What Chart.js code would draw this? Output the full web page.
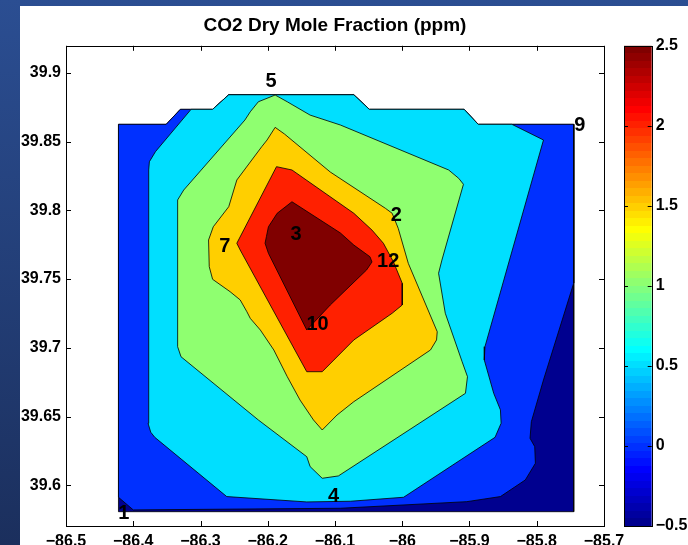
<!DOCTYPE html>
<html>
<head>
<meta charset="utf-8">
<script src="https://cdn.jsdelivr.net/npm/chart.js@4.4.1/dist/chart.umd.min.js"></script>
<style>
  html, body { margin: 0; padding: 0; width: 688px; height: 545px; overflow: hidden; }
  body { position: relative; background: linear-gradient(180deg, #2b4e92 0%, #1b2f5d 100%); }
  #panel { position: absolute; left: 20px; top: 6px; right: 0; bottom: 0; background: #fff; }
  #plot { position: absolute; left: 0; top: 0; }
  #cbar { position: absolute; left: 600px; top: 0; }
</style>
</head>
<body>
<div id="panel"></div>
<canvas id="plot" width="688" height="560"></canvas>
<canvas id="cbar" width="88" height="560"></canvas>
<script>
// axes
const xTicks = [-86.5, -86.4, -86.3, -86.2, -86.1, -86, -85.9, -85.8, -85.7];
const yTicks = [39.6, 39.65, 39.7, 39.75, 39.8, 39.85, 39.9];
const cbTicks = [-0.5, 0, 0.5, 1, 1.5, 2, 2.5];
const cbMin = -0.5, cbMax = 2.5;

// contour levels (ppm) and the region at or above each level, as [lon, lat]
const levels = [-0.5, 0, 0.5, 1, 1.5, 2, 2.5];

const shapeM05 = [
  [-86.422, 39.8625], [-86.351, 39.8625], [-86.330, 39.8734], [-86.282, 39.8734], [-86.258, 39.8840],
  [-86.072, 39.8840], [-86.049, 39.8734], [-85.908, 39.8734], [-85.887, 39.8625], [-85.745, 39.8625],
  [-85.745, 39.5808], [-86.422, 39.5808]
];
const shape00 = [
  [-86.422, 39.8625], [-86.351, 39.8625], [-86.330, 39.8734], [-86.282, 39.8734], [-86.258, 39.8840],
  [-86.072, 39.8840], [-86.049, 39.8734], [-85.908, 39.8734], [-85.887, 39.8625], [-85.745, 39.8625],
  [-85.745, 39.7471], [-85.790, 39.6766], [-85.808, 39.6463], [-85.810, 39.6342], [-85.803, 39.6281],
  [-85.802, 39.6160], [-85.817, 39.6039], [-85.854, 39.5918], [-85.904, 39.5881], [-86.092, 39.5833],
  [-86.400, 39.5821], [-86.422, 39.5913]
];
const shape05 = [
  [-86.314, 39.8734], [-86.282, 39.8734], [-86.258, 39.8840], [-86.072, 39.8840], [-86.049, 39.8734],
  [-85.908, 39.8734], [-85.887, 39.8625], [-85.837, 39.8625], [-85.790, 39.8511], [-85.877, 39.7008],
  [-85.878, 39.6911], [-85.864, 39.6669], [-85.854, 39.6548], [-85.853, 39.6451], [-85.862, 39.6349],
  [-85.998, 39.5913], [-86.077, 39.5884], [-86.142, 39.5879], [-86.261, 39.5918], [-86.368, 39.6349],
  [-86.374, 39.6386], [-86.378, 39.6451], [-86.377, 39.8293], [-86.376, 39.8353], [-86.367, 39.8426]
];
const shape10 = [
  [-86.189, 39.8838], [-86.171, 39.8789], [-86.137, 39.8692], [-86.092, 39.8620], [-85.931, 39.8293],
  [-85.916, 39.8232], [-85.909, 39.8189], [-85.941, 39.7638], [-85.946, 39.7542], [-85.936, 39.7251],
  [-85.911, 39.6899], [-85.903, 39.6790], [-85.906, 39.6669], [-86.095, 39.6068], [-86.119, 39.6051],
  [-86.137, 39.6136], [-86.142, 39.6208], [-86.214, 39.6475], [-86.329, 39.6935], [-86.334, 39.7008],
  [-86.334, 39.8075], [-86.325, 39.8147], [-86.234, 39.8656], [-86.226, 39.8716], [-86.214, 39.8789]
];
const shape15 = [
  [-86.189, 39.8603], [-86.175, 39.8554], [-86.107, 39.8278], [-86.025, 39.8014], [-86.015, 39.7978],
  [-86.006, 39.7869], [-85.991, 39.7614], [-85.948, 39.7117], [-85.949, 39.7057], [-85.958, 39.6984],
  [-86.072, 39.6608], [-86.097, 39.6511], [-86.119, 39.6402], [-86.132, 39.6475], [-86.152, 39.6620],
  [-86.171, 39.6790], [-86.191, 39.6984], [-86.211, 39.7129], [-86.226, 39.7214], [-86.231, 39.7262],
  [-86.241, 39.7348], [-86.256, 39.7408], [-86.282, 39.7498], [-86.287, 39.7590], [-86.288, 39.7784],
  [-86.281, 39.7880], [-86.258, 39.8026], [-86.246, 39.8220], [-86.209, 39.8462], [-86.201, 39.8511]
];
const shape20 = [
  [-86.187, 39.8317], [-86.164, 39.8293], [-86.072, 39.7978], [-86.045, 39.7856], [-86.028, 39.7760],
  [-86.013, 39.7624], [-86.000, 39.7469], [-86.000, 39.7311], [-86.015, 39.7251], [-86.072, 39.7057],
  [-86.119, 39.6826], [-86.142, 39.6826], [-86.241, 39.7711], [-86.246, 39.7760]
];
const shape25 = [
  [-86.164, 39.8062], [-86.092, 39.7835], [-86.072, 39.7747], [-86.048, 39.7662], [-86.045, 39.7624],
  [-86.053, 39.7566], [-86.107, 39.7311], [-86.142, 39.7129], [-86.199, 39.7687], [-86.204, 39.7760],
  [-86.202, 39.7808], [-86.199, 39.7880], [-86.186, 39.7978]
];
const shapes = [shapeM05, shape00, shape05, shape10, shape15, shape20, shape25];

// station numbers
const stationNames = ['5', '9', '2', '7', '3', '12', '10', '4', '1'];
const stationLon = [-86.195, -85.736, -86.009, -86.264, -86.158, -86.021, -86.126, -86.102, -86.414];
const stationLat = [39.8935, 39.8615, 39.7965, 39.7735, 39.7827, 39.7631, 39.7173, 39.5918, 39.5792];

const FONT = '"Liberation Sans", Arial, Helvetica, sans-serif';
const tickFont = { family: FONT, size: 16, weight: 'bold' };

// MATLAB jet(64), entry j = 1..64
function jet(j) {
    const u = k => (k < 1 || k > 47) ? 0 : k <= 16 ? k / 16 : k <= 31 ? 1 : (48 - k) / 16;
    const c = v => Math.round(v * 255);
    return `rgb(${c(u(j - 24))},${c(u(j - 8))},${c(u(j + 8))})`;
}
function levelColor(lv) {
    return jet(Math.min(64, Math.floor((lv - cbMin) / (cbMax - cbMin) * 64) + 1));
}
const fmt = v => String(+(+v).toFixed(2)).replace('-', '\u2212');

// frame with inward ticks, like MATLAB box on
const inwardTicks = {
    id: 'inwardTicks',
    afterDraw(chart, args, opts) {
        const { ctx, chartArea: a } = chart;
        const len = opts.length || 5;
        ctx.save();
        ctx.strokeStyle = '#000';
        ctx.lineWidth = 1;
        ctx.beginPath();
        const xs = chart.scales.x;
        if (xs && xs.options.display !== false) {
            xs.ticks.forEach(t => {
                const px = Math.round(xs.getPixelForValue(t.value)) + 0.5;
                ctx.moveTo(px, a.top); ctx.lineTo(px, a.top + len);
                ctx.moveTo(px, a.bottom); ctx.lineTo(px, a.bottom - len);
            });
        }
        const ys = chart.scales.y;
        ys.ticks.forEach(t => {
            const py = Math.round(ys.getPixelForValue(t.value)) + 0.5;
            ctx.moveTo(a.left, py); ctx.lineTo(a.left + len, py);
            ctx.moveTo(a.right, py); ctx.lineTo(a.right - len, py);
        });
        ctx.stroke();
        ctx.strokeRect(Math.round(a.left) + 0.5, Math.round(a.top) + 0.5,
            Math.round(a.right - a.left), Math.round(a.bottom - a.top));
        ctx.restore();
    }
};

const stationText = {
    id: 'stationText',
    afterDatasetsDraw(chart) {
        const { ctx, scales: { x, y } } = chart;
        ctx.save();
        ctx.font = 'bold 20px ' + FONT;
        ctx.fillStyle = '#000';
        ctx.textAlign = 'center';
        ctx.textBaseline = 'middle';
        stationNames.forEach((n, i) => {
            ctx.fillText(n, x.getPixelForValue(stationLon[i]), y.getPixelForValue(stationLat[i]));
        });
        ctx.restore();
    }
};

new Chart(document.getElementById('plot'), {
    type: 'scatter',
    data: {
        datasets: levels.map((lv, i) => ({
            label: String(lv),
            data: [...shapes[i], shapes[i][0]].map(([x, y]) => ({ x, y })),
            showLine: true,
            fill: 'shape',
            backgroundColor: levelColor(lv),
            borderColor: '#000',
            borderWidth: 0.8,
            pointRadius: 0,
            tension: 0,
            order: levels.length - i
        }))
    },
    options: {
        responsive: false,
        animation: false,
        events: [],
        layout: { padding: { left: 0, right: 84, top: 0, bottom: 0 } },
        plugins: {
            legend: { display: false },
            tooltip: { enabled: false },
            title: {
                display: true,
                text: 'CO2 Dry Mole Fraction (ppm)',
                fullSize: false,
                color: '#000',
                font: { family: FONT, size: 19, weight: 'bold' },
                padding: { top: 14, bottom: 9 }
            }
        },
        scales: {
            x: {
                type: 'linear',
                min: -86.5, max: -85.7,
                afterBuildTicks: s => { s.ticks = xTicks.map(v => ({ value: v })); },
                afterFit: s => { s.height = 34; },
                grid: { display: false, drawTicks: false },
                border: { display: false },
                ticks: { padding: 6, color: '#000', font: tickFont, callback: fmt, maxRotation: 0, autoSkip: false }
            },
            y: {
                type: 'linear',
                min: 39.5704, max: 39.9196,
                afterBuildTicks: s => { s.ticks = yTicks.map(v => ({ value: v })); },
                afterFit: s => { s.width = 66; },
                grid: { display: false, drawTicks: false },
                border: { display: false },
                ticks: { padding: 5, color: '#000', font: tickFont, callback: fmt, autoSkip: false }
            }
        }
    },
    plugins: [stationText, inwardTicks]
});

// colorbar
new Chart(document.getElementById('cbar'), {
    type: 'bar',
    data: {
        labels: [''],
        datasets: [{
            data: [[cbMin, cbMax]],
            backgroundColor: (c) => {
                const area = c.chart.chartArea;
                if (!area) return levelColor(1);
                const g = c.chart.ctx.createLinearGradient(0, area.bottom, 0, area.top);
                for (let k = 0; k < 64; k++) {
                    g.addColorStop(k / 64, jet(k + 1));
                    g.addColorStop((k + 1) / 64, jet(k + 1));
                }
                return g;
            },
            borderWidth: 0,
            barPercentage: 1,
            categoryPercentage: 1
        }]
    },
    options: {
        responsive: false,
        animation: false,
        events: [],
        layout: { padding: { left: 24, right: 0, top: 45.7, bottom: 34 } },
        plugins: {
            legend: { display: false },
            tooltip: { enabled: false },
            inwardTicks: { length: 4 }
        },
        scales: {
            x: { display: false },
            y: {
                position: 'right',
                min: cbMin, max: cbMax,
                afterBuildTicks: s => { s.ticks = cbTicks.map(v => ({ value: v })); },
                afterFit: s => { s.width = 36.3; },
                grid: { display: false, drawTicks: false },
                border: { display: false },
                ticks: { padding: 4, color: '#000', font: tickFont, callback: fmt, autoSkip: false }
            }
        }
    },
    plugins: [inwardTicks]
});
</script>
</body>
</html>
